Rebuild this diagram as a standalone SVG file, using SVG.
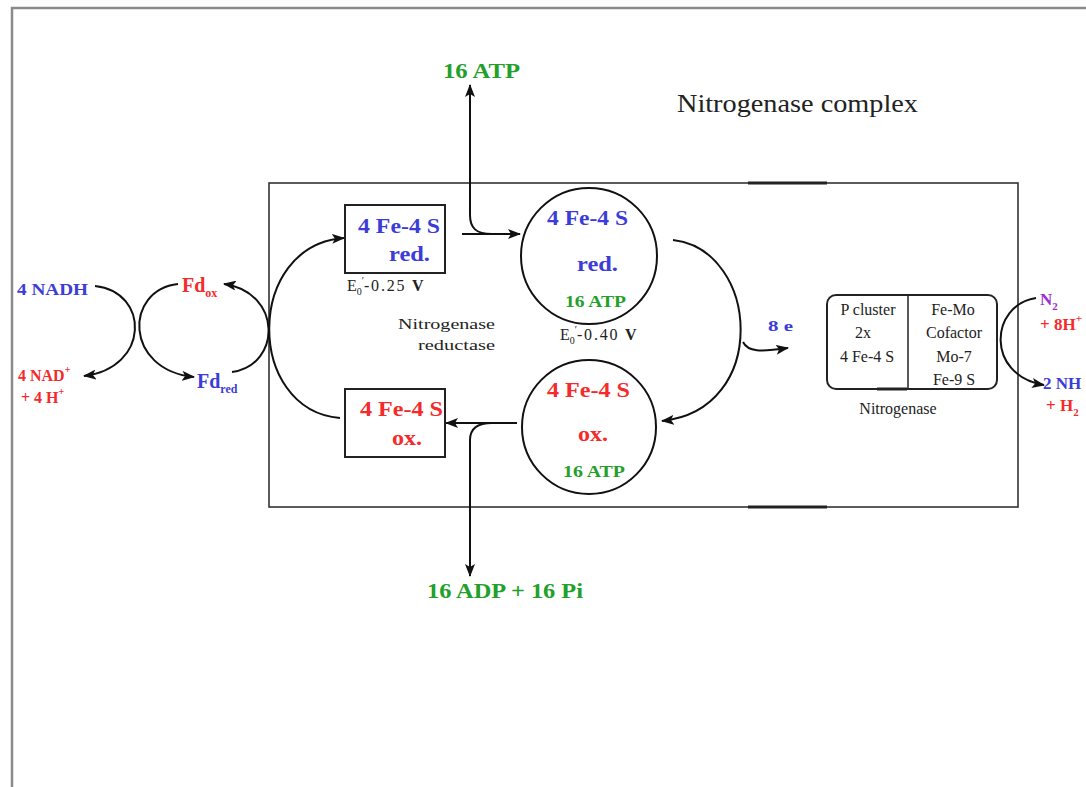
<svg xmlns="http://www.w3.org/2000/svg" width="1086" height="787" viewBox="0 0 1086 787">
<defs>
<marker id="ah" markerWidth="13" markerHeight="10" refX="12" refY="5" orient="auto" markerUnits="userSpaceOnUse"><path d="M0,0 L13,5 L0,10 L3,5 z" fill="#111"/></marker>
</defs>
<style>
.t{font-family:"Liberation Serif","Times New Roman",serif}
.b{font-weight:bold}
.blue{fill:#3c3cd8}
.red{fill:#f52a2a}
.green{fill:#22a02a}
.purple{fill:#9b30d0}
.dk{fill:#222}
.c{fill:none;stroke:#111;stroke-width:2}
.a{marker-end:url(#ah)}
.box{fill:#fff;stroke:#222;stroke-width:2}
</style>
<rect x="12" y="8" width="1100" height="800" fill="#fff" stroke="#8a8a8a" stroke-width="2.5"/>

<g id="complex">
<rect x="269" y="183" width="749" height="324" fill="none" stroke="#333" stroke-width="1.6"/>
<line x1="748" y1="183" x2="827" y2="183" stroke="#222" stroke-width="3"/>
<line x1="748" y1="507" x2="827" y2="507" stroke="#222" stroke-width="3"/>
<text class="t dk" x="677" y="112" font-size="25" textLength="241" lengthAdjust="spacingAndGlyphs">Nitrogenase complex</text>
</g>

<g id="connectors">
<path class="c a" d="M95,286 C150,292 150,368 84,376"/>
<path class="c a" d="M178,284 C124,290 124,370 194,377"/>
<path class="c a" d="M232,372 C282,365 282,292 224,284"/>
<path class="c a" d="M340,418 C245,410 245,245 344,238"/>
<path class="c a" d="M462,234 L520,234"/>
<path class="c a" d="M492,234 C476,234 470,228 470,215 L470,85"/>
<path class="c a" d="M673,240 C760,250 770,410 662,421"/>
<path class="c a" d="M743,342 C748,352 760,352 788,348"/>
<path class="c a" d="M517,423 L446,423"/>
<path class="c a" d="M492,423 C476,423 470,430 470,440 L470,576"/>
<path class="c a" d="M1036,298 C990,305 985,375 1044,385"/>
</g>

<g id="nadh">
<text class="t b blue" x="17" y="295" font-size="16" textLength="71" lengthAdjust="spacingAndGlyphs">4 NADH</text>
</g>
<g id="nad">
<text class="t b red" x="18" y="381" font-size="16">4 NAD<tspan font-size="10" dy="-8">+</tspan></text>
<text class="t b red" x="21" y="403" font-size="16">+ 4 H<tspan font-size="10" dy="-8">+</tspan></text>
</g>
<g id="fdox">
<text class="t b red" x="182" y="292" font-size="20">Fd<tspan font-size="12" dy="5">ox</tspan></text>
</g>
<g id="fdred">
<text class="t b blue" x="197" y="388" font-size="20">Fd<tspan font-size="12" dy="5">red</tspan></text>
</g>

<g id="atp-top">
<text class="t b green" x="443" y="78" font-size="21" textLength="77" lengthAdjust="spacingAndGlyphs">16 ATP</text>
</g>
<g id="adp">
<text class="t b green" x="427" y="598" font-size="22" textLength="156" lengthAdjust="spacingAndGlyphs">16 ADP + 16 Pi</text>
</g>

<g id="fe4s-red-box">
<rect class="box" x="345" y="205" width="100" height="68"/>
<text class="t b blue" x="358" y="233" font-size="21" textLength="82" lengthAdjust="spacingAndGlyphs">4 Fe-4 S</text>
<text class="t b blue" x="389" y="261" font-size="21" textLength="41" lengthAdjust="spacingAndGlyphs">red.</text>
<text class="t dk" x="347" y="291" font-size="16">E<tspan font-size="10" dy="4">0</tspan><tspan font-size="10" dy="-11">′</tspan><tspan dy="7" font-size="16" letter-spacing="1.8">-0.25 <tspan font-weight="bold">V</tspan></tspan></text>
</g>

<g id="reductase-label">
<text class="t dk" x="398" y="329" font-size="15" textLength="97" lengthAdjust="spacingAndGlyphs">Nitrogenase</text>
<text class="t dk" x="418" y="350" font-size="15" textLength="77" lengthAdjust="spacingAndGlyphs">reductase</text>
</g>

<g id="fe4s-red-circle">
<circle cx="589" cy="256" r="68" fill="none" stroke="#111" stroke-width="2"/>
<text class="t b blue" x="547" y="225" font-size="21" textLength="81" lengthAdjust="spacingAndGlyphs">4 Fe-4 S</text>
<text class="t b blue" x="577" y="271" font-size="21" textLength="41" lengthAdjust="spacingAndGlyphs">red.</text>
<text class="t b green" x="565" y="307" font-size="17" textLength="61" lengthAdjust="spacingAndGlyphs">16 ATP</text>
<text class="t dk" x="560" y="340" font-size="16">E<tspan font-size="10" dy="4">0</tspan><tspan font-size="10" dy="-11">′</tspan><tspan dy="7" font-size="16" letter-spacing="1.8">-0.40 <tspan font-weight="bold">V</tspan></tspan></text>
</g>

<g id="fe4s-ox-circle">
<circle cx="589" cy="427" r="67" fill="none" stroke="#111" stroke-width="2"/>
<text class="t b red" x="547" y="397" font-size="21" textLength="83" lengthAdjust="spacingAndGlyphs">4 Fe-4 S</text>
<text class="t b red" x="578" y="441" font-size="21" textLength="30" lengthAdjust="spacingAndGlyphs">ox.</text>
<text class="t b green" x="563" y="477" font-size="17" textLength="62" lengthAdjust="spacingAndGlyphs">16 ATP</text>
</g>

<g id="fe4s-ox-box">
<rect class="box" x="345" y="389" width="100" height="68"/>
<text class="t b red" x="360" y="416" font-size="21" textLength="83" lengthAdjust="spacingAndGlyphs">4 Fe-4 S</text>
<text class="t b red" x="392" y="445" font-size="21" textLength="30" lengthAdjust="spacingAndGlyphs">ox.</text>
</g>

<g id="electrons">
<text class="t b blue" x="768" y="331" font-size="15" textLength="25" lengthAdjust="spacingAndGlyphs">8 e</text>
</g>

<g id="nitrogenase">
<rect x="827" y="295" width="170" height="94" rx="9" fill="#fff" stroke="#222" stroke-width="2"/>
<line x1="908" y1="295" x2="908" y2="389" stroke="#222" stroke-width="1.5"/>
<line x1="877" y1="389" x2="907" y2="389" stroke="#222" stroke-width="3"/>
<g class="t dk" font-size="16" text-anchor="middle">
<text x="868" y="315">P cluster</text>
<text x="863" y="338">2x</text>
<text x="867" y="362">4 Fe-4 S</text>
<text x="953" y="315">Fe-Mo</text>
<text x="954" y="338">Cofactor</text>
<text x="954" y="362">Mo-7</text>
<text x="954" y="385">Fe-9 S</text>
<text x="898" y="414">Nitrogenase</text>
</g>
</g>

<g id="n2">
<text class="t b purple" x="1040" y="305" font-size="17">N<tspan font-size="11" dy="5">2</tspan></text>
<text class="t b red" x="1040" y="330" font-size="17">+ 8H<tspan font-size="11" dy="-8">+</tspan></text>
</g>
<g id="nh3">
<text class="t b blue" x="1043" y="389" font-size="17">2 NH</text>
<text class="t b red" x="1046" y="411" font-size="17">+ H<tspan font-size="11" dy="5">2</tspan></text>
</g>
</svg>
